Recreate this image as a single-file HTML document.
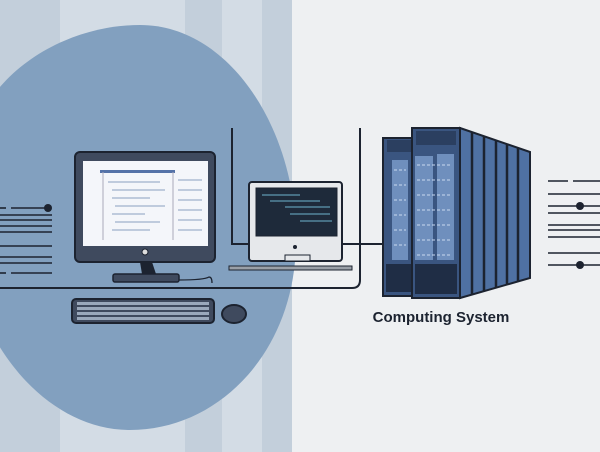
<!DOCTYPE html><html><head><style>body{margin:0}svg{display:block}</style></head><body>
<svg width="600" height="452" viewBox="0 0 600 452" xmlns="http://www.w3.org/2000/svg" font-family="Liberation Sans, sans-serif">
<rect width="600" height="452" fill="#eef0f2"/>
<rect x="0" width="292" height="452" fill="#c3cfdb"/>
<rect x="60" width="125" height="452" fill="#d3dce5"/>
<rect x="222" width="40" height="452" fill="#d3dce5"/>
<path d="M-40 200C-40 80 60 25 140 25C230 25 296 130 296 240C296 350 220 430 130 430C40 430 -40 330 -40 200Z" fill="#82a0bf"/>
<g stroke="#1c2330" stroke-width="2" fill="none">
<path d="M0 288H352q8 0 8-8V128"/>
<path d="M232 128V244H382"/>
</g>
<g stroke="#1c2330" stroke-width="1.6">
<line x1="0" y1="208" x2="6" y2="208"/><line x1="11" y1="208" x2="48" y2="208"/>
<line x1="0" y1="215" x2="52" y2="215"/><line x1="0" y1="220" x2="52" y2="220"/>
<line x1="0" y1="226" x2="52" y2="226"/><line x1="0" y1="232" x2="52" y2="232"/>
<line x1="0" y1="246" x2="52" y2="246"/><line x1="0" y1="257" x2="52" y2="257"/>
<line x1="0" y1="263" x2="52" y2="263"/><line x1="0" y1="273" x2="6" y2="273"/><line x1="11" y1="273" x2="52" y2="273"/>
<line x1="548" y1="181" x2="568" y2="181"/><line x1="573" y1="181" x2="600" y2="181"/>
<line x1="548" y1="194" x2="600" y2="194"/><line x1="548" y1="206" x2="600" y2="206"/>
<line x1="548" y1="213" x2="600" y2="213"/><line x1="548" y1="225" x2="600" y2="225"/>
<line x1="548" y1="230" x2="600" y2="230"/><line x1="548" y1="237" x2="600" y2="237"/>
<line x1="548" y1="253" x2="600" y2="253"/><line x1="548" y1="265" x2="600" y2="265"/>
</g>
<circle cx="48" cy="208" r="4" fill="#1c2330"/>
<circle cx="580" cy="206" r="4" fill="#1c2330"/><circle cx="580" cy="265" r="4" fill="#1c2330"/>
<rect x="75" y="152" width="140" height="110" rx="5" fill="#3f4a5e" stroke="#1c2330" stroke-width="2"/>
<rect x="83" y="161" width="125" height="85" fill="#f4f6fa"/>
<rect x="100" y="170" width="75" height="3" fill="#5573a8"/>
<g stroke="#8aa0c0" stroke-width="1"><line x1="108" y1="182" x2="160" y2="182"/><line x1="112" y1="190" x2="165" y2="190"/><line x1="112" y1="198" x2="150" y2="198"/><line x1="115" y1="206" x2="165" y2="206"/><line x1="112" y1="214" x2="145" y2="214"/><line x1="115" y1="222" x2="160" y2="222"/><line x1="112" y1="230" x2="150" y2="230"/><line x1="178" y1="180" x2="202" y2="180"/><line x1="178" y1="190" x2="202" y2="190"/><line x1="178" y1="200" x2="202" y2="200"/><line x1="178" y1="210" x2="202" y2="210"/><line x1="178" y1="220" x2="202" y2="220"/><line x1="178" y1="230" x2="202" y2="230"/></g>
<line x1="173" y1="172" x2="173" y2="240" stroke="#aab" />
<line x1="103" y1="172" x2="103" y2="240" stroke="#aab" />
<circle cx="145" cy="252" r="3" fill="#ddd" stroke="#1c2330"/>
<path d="M140 262h12l4 12h-14z" fill="#1c2330"/>
<rect x="113" y="274" width="66" height="8" rx="2" fill="#3f4a5e" stroke="#1c2330" stroke-width="1.5"/>
<path d="M179 280q25 0 30-3q3 0 3 6" stroke="#1c2330" fill="none" stroke-width="1.3"/>
<rect x="72" y="299" width="142" height="24" rx="4" fill="#3f4a5e" stroke="#1c2330" stroke-width="2"/>
<g fill="#9aa8bb"><rect x="77" y="302" width="132" height="3"/><rect x="77" y="307" width="132" height="3"/><rect x="77" y="312" width="132" height="3"/><rect x="77" y="317" width="132" height="3"/></g>
<ellipse cx="234" cy="314" rx="12" ry="9" fill="#3f4a5e" stroke="#1c2330" stroke-width="2"/>
<rect x="249" y="182" width="93" height="79" rx="3" fill="#e6e8eb" stroke="#1c2330" stroke-width="2"/>
<rect x="256" y="188" width="81" height="48" fill="#1e2a3a" stroke="#1c2330"/>
<g stroke="#6fb4cf" stroke-width="1"><line x1="262" y1="195" x2="300" y2="195"/><line x1="270" y1="201" x2="320" y2="201"/><line x1="285" y1="207" x2="330" y2="207"/><line x1="290" y1="214" x2="330" y2="214"/><line x1="300" y1="221" x2="332" y2="221"/></g>
<circle cx="295" cy="247" r="2" fill="#1c2330"/>
<rect x="285" y="255" width="25" height="6" fill="#e6e8eb" stroke="#1c2330"/>
<rect x="229" y="266" width="123" height="4" fill="#9aa0a8" stroke="#1c2330"/>
<path d="M460 128L530 152V278L460 298Z" fill="#4f71a3" stroke="#1c2330" stroke-width="2"/>
<g stroke="#1c2330" stroke-width="2.5"><line x1="472" y1="132" x2="472" y2="295"/><line x1="484" y1="136" x2="484" y2="291"/><line x1="496" y1="140" x2="496" y2="288"/><line x1="507" y1="144" x2="507" y2="285"/><line x1="518" y1="148" x2="518" y2="282"/></g>
<rect x="383" y="138" width="30" height="158" fill="#3a5580" stroke="#1c2330" stroke-width="2"/>
<rect x="412" y="128" width="48" height="170" fill="#3a5580" stroke="#1c2330" stroke-width="2"/>
<rect x="387" y="140" width="24" height="12" fill="#2b3f60"/><rect x="416" y="131" width="40" height="14" fill="#2b3f60"/>
<g fill="#6f8fbd"><rect x="392" y="160" width="16" height="100"/><rect x="415" y="156" width="18" height="104"/><rect x="437" y="154" width="17" height="106"/></g>
<g stroke="#c8d8f0" stroke-width="1" stroke-dasharray="3 2"><line x1="394" y1="170" x2="406" y2="170"/><line x1="394" y1="185" x2="406" y2="185"/><line x1="394" y1="200" x2="406" y2="200"/><line x1="394" y1="215" x2="406" y2="215"/><line x1="394" y1="230" x2="406" y2="230"/><line x1="394" y1="245" x2="406" y2="245"/><line x1="417" y1="165" x2="452" y2="165"/><line x1="417" y1="180" x2="452" y2="180"/><line x1="417" y1="195" x2="452" y2="195"/><line x1="417" y1="210" x2="452" y2="210"/><line x1="417" y1="225" x2="452" y2="225"/><line x1="417" y1="240" x2="452" y2="240"/><line x1="417" y1="255" x2="452" y2="255"/></g>
<g fill="#1f2d45"><rect x="386" y="264" width="25" height="28"/><rect x="415" y="264" width="42" height="30"/></g>
<text x="441" y="322" text-anchor="middle" font-size="15" font-weight="bold" fill="#1c2330">Computing System</text>
</svg>
</body></html>
